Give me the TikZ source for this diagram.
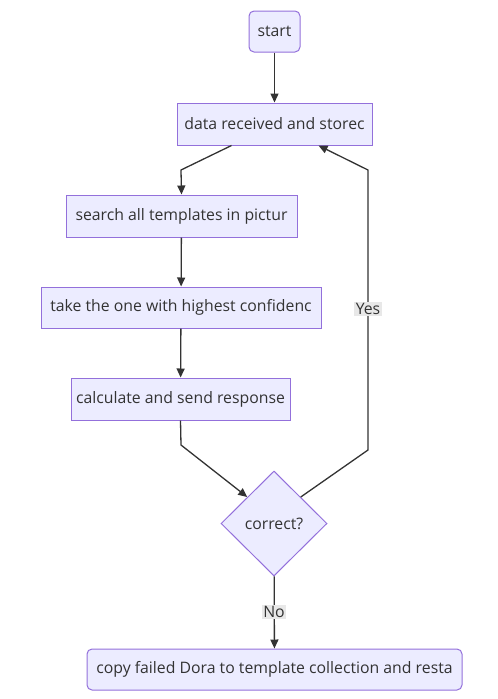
\documentclass[tikz,border=0pt]{standalone}
\usepackage{fontspec}
\setmainfont{Open Sans}
\usetikzlibrary{arrows.meta,shapes.geometric}
\definecolor{nodefill}{HTML}{ECECFF}
\definecolor{nodeline}{HTML}{9370DB}
\definecolor{txt}{HTML}{333333}
\definecolor{lblbg}{HTML}{E8E8E8}
\begin{document}
\begin{tikzpicture}[x=1pt,y=-1pt,
  box/.style={draw=nodeline,fill=nodefill,line width=1pt,text=txt,font=\fontsize{15.8}{18}\selectfont,inner sep=0pt,anchor=center},
  roundbox/.style={box,rounded corners=5pt},
  dia/.style={box,diamond,minimum width=106pt,minimum height=105pt,aspect=1},
  conn/.style={draw=txt,line width=1.3pt,-{Triangle[length=9pt,width=8pt]}},
  lbl/.style={fill=lblbg,text=txt,font=\fontsize{15.8}{18}\selectfont,inner sep=1.5pt}]
\useasboundingbox (0,0) rectangle (498,699);
\node[roundbox,minimum width=51pt,minimum height=41pt] (start) at (274.5,31.5) {start};
\node[box,minimum width=195pt,minimum height=42pt] (data) at (274.5,124) {data received and storec};
\node[box,minimum width=231pt,minimum height=42pt] (search) at (181.5,216) {search all templates in pictur};
\node[box,minimum width=280pt,minimum height=41pt] (take) at (181,307.5) {take the one with highest confidenc};
\node[box,minimum width=219pt,minimum height=42pt] (calc) at (180.5,399) {calculate and send response};
\node[dia] (correct) at (274,523.5) {correct?};
\node[roundbox,minimum width=375pt,minimum height=41pt] (copy) at (274.5,669.5) {copy failed Dora to template collection and resta};
\coordinate (c1) at (181,170);
\coordinate (c2) at (181,445);
\coordinate (c3) at (368,450);
\coordinate (c4) at (368,170);
\draw[conn] (start) -- (data);
\draw[conn] (data.south west) ++(55,0) -- (c1) -- (search.north);
\draw[conn] (search) -- (take);
\draw[conn] (take) -- (calc);
\draw[conn] (calc.south) -- (c2) -- (correct.north west);
\draw[conn] (correct.north east) -- (c3) -- (c4) -- ([xshift=44pt]data.south);
\draw[conn] (correct) -- (copy);
\node[lbl] (yes) at (368,309) {Yes};
\node[lbl] (no) at (274,612) {No};
\end{tikzpicture}
\end{document}
